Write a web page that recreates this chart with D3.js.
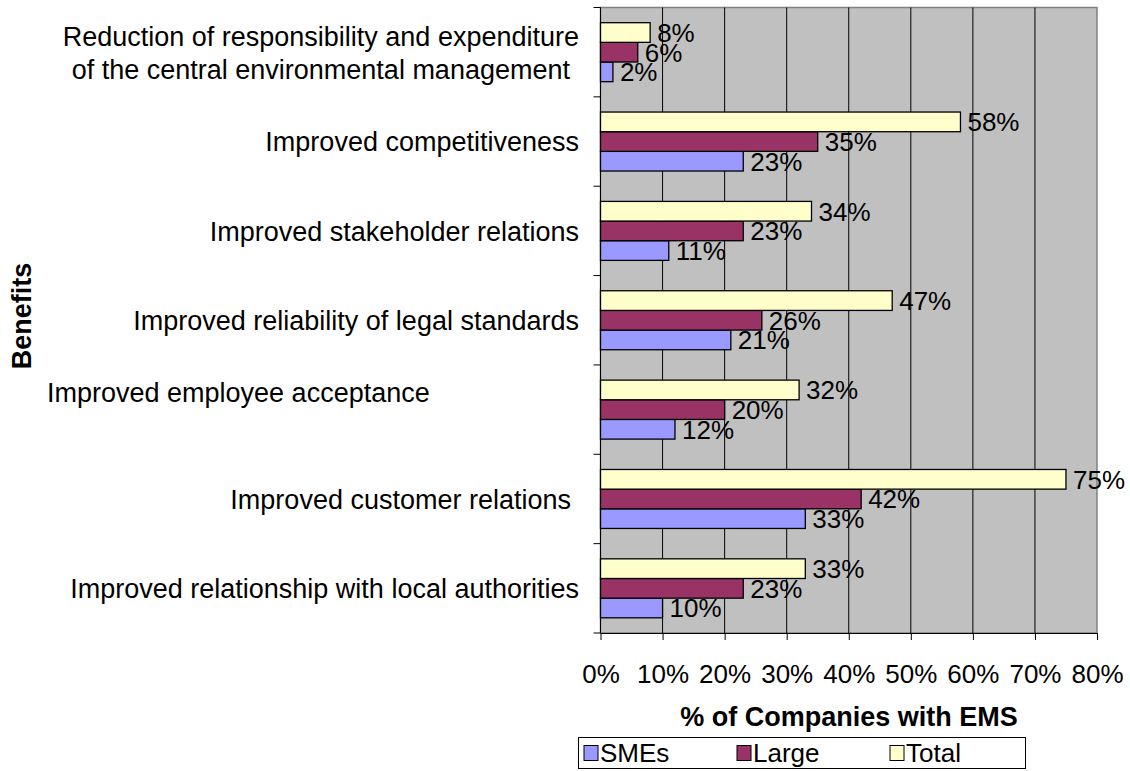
<!DOCTYPE html>
<html><head><meta charset="utf-8">
<script src="https://cdn.jsdelivr.net/npm/d3@7"></script>
<style>body{margin:0;background:#fff;} text{font-family:"Liberation Sans",Arial,sans-serif;}</style>
</head><body>
<svg id="c" width="1130" height="771"></svg>
<script>
const categories = [
  "Reduction of responsibility and expenditure|of the central environmental management",
  "Improved competitiveness",
  "Improved stakeholder relations",
  "Improved reliability of legal standards",
  "Improved employee acceptance",
  "Improved customer relations",
  "Improved relationship with local authorities"
];
const seriesNames = ["SMEs", "Large", "Total"];
const smes  = [2, 23, 11, 21, 12, 33, 10];
const large = [6, 35, 23, 26, 20, 42, 23];
const total = [8, 58, 34, 47, 32, 75, 33];
const xTicks = [0,10,20,30,40,50,60,70,80];
const colors = {SMEs:"#9999FF", Large:"#993366", Total:"#FFFFCC"};

const FS = 27, FT = 26;
const svg = d3.select("#c");
const L = 600.5, R = 1097, T = 7.5, B = 633;
const x = d3.scaleLinear().domain([0,80]).range([L,R]);
const y0 = d3.scaleBand().domain(categories).range([T,B]);
const bw = y0.bandwidth();
const gap = bw*0.34;
const y1 = d3.scaleBand().domain(["Total","Large","SMEs"]).range([gap/2, bw-gap/2]);
const vals = {SMEs:smes, Large:large, Total:total};

svg.append("rect").attr("x",L).attr("y",T).attr("width",R-L).attr("height",B-T)
  .attr("fill","#C0C0C0").attr("stroke","#808080").attr("stroke-width",1.5);
svg.append("g").selectAll("line").data(xTicks.slice(1,-1)).join("line")
  .attr("x1",d=>x(d)).attr("x2",d=>x(d)).attr("y1",T).attr("y2",B)
  .attr("stroke","#000").attr("stroke-width",1);

const xa = svg.append("g").attr("transform",`translate(0,${B})`)
  .call(d3.axisBottom(x).tickValues(xTicks).tickFormat(d=>d+"%").tickSizeInner(7).tickSizeOuter(0).tickPadding(25));
xa.select(".domain").attr("stroke","#000");
xa.selectAll("line").attr("stroke","#000");
xa.selectAll("text").attr("font-size",FT).attr("fill","#000").attr("font-family","Liberation Sans, Arial, sans-serif");

const ya = svg.append("g").attr("transform",`translate(${L},0)`);
ya.append("line").attr("x1",0).attr("x2",0).attr("y1",T).attr("y2",B).attr("stroke","#000");
const edges = d3.range(categories.length+1).map(i=>T+i*bw);
ya.selectAll("line.t").data(edges).join("line").attr("class","t")
  .attr("x1",-7).attr("x2",0).attr("y1",d=>d).attr("y2",d=>d).attr("stroke","#000");

seriesNames.forEach(s=>{
  const g = svg.append("g");
  g.selectAll("rect").data(categories).join("rect")
    .attr("x",x(0)).attr("y",(c)=>y0(c)+y1(s))
    .attr("width",(c,i)=>x(vals[s][i])-x(0)).attr("height",y1.bandwidth())
    .attr("fill",colors[s]).attr("stroke","#000").attr("stroke-width",1.3);
  g.selectAll("text").data(categories).join("text")
    .attr("x",(c,i)=>x(vals[s][i])+7).attr("y",(c)=>y0(c)+y1(s)+y1.bandwidth()/2)
    .attr("dy","0.36em").attr("font-size",FT).attr("fill","#000")
    .text((c,i)=>vals[s][i]+"%");
});

const labG = svg.append("g");
const off = FS*0.36;
categories.forEach((c,i)=>{
  const cy = y0(c)+bw/2;
  const lines = c.split("|");
  if (lines.length===2){
    const t1 = labG.append("text").attr("font-size",FS).attr("text-anchor","end").attr("x",579).attr("y",cy-16+off).text(lines[0]);
    const w = t1.node().getComputedTextLength();
    labG.append("text").attr("font-size",FS).attr("text-anchor","middle").attr("x",579-w/2).attr("y",cy+17+off).text(lines[1]);
  } else if (i===4){
    labG.append("text").attr("font-size",FS).attr("text-anchor","start").attr("x",47).attr("y",cy-17+off).text(c);
  } else if (i===5){
    labG.append("text").attr("font-size",FS).attr("text-anchor","end").attr("x",571).attr("y",cy+off).text(c);
  } else {
    labG.append("text").attr("font-size",FS).attr("text-anchor","end").attr("x",579).attr("y",cy+off).text(c);
  }
});

svg.append("text").attr("transform","translate(31,316) rotate(-90)").attr("text-anchor","middle")
  .attr("font-size",FS).attr("font-weight","bold").text("Benefits");
svg.append("text").attr("x",849).attr("y",726).attr("text-anchor","middle")
  .attr("font-size",FS).attr("font-weight","bold").text("% of Companies with EMS");

const lg = svg.append("g");
lg.append("rect").attr("x",578.5).attr("y",737.5).attr("width",447).attr("height",31)
  .attr("fill","#fff").attr("stroke","#000").attr("stroke-width",1);
const lx = d3.scalePoint().domain(seriesNames).range([584,890]);
seriesNames.forEach(s=>{
  lg.append("rect").attr("x",lx(s)).attr("y",745.5).attr("width",14).attr("height",15)
    .attr("fill",colors[s]).attr("stroke","#000").attr("stroke-width",1);
  lg.append("text").attr("x",lx(s)+16).attr("y",762).attr("font-size",FT).text(s);
});
</script>
</body></html>
